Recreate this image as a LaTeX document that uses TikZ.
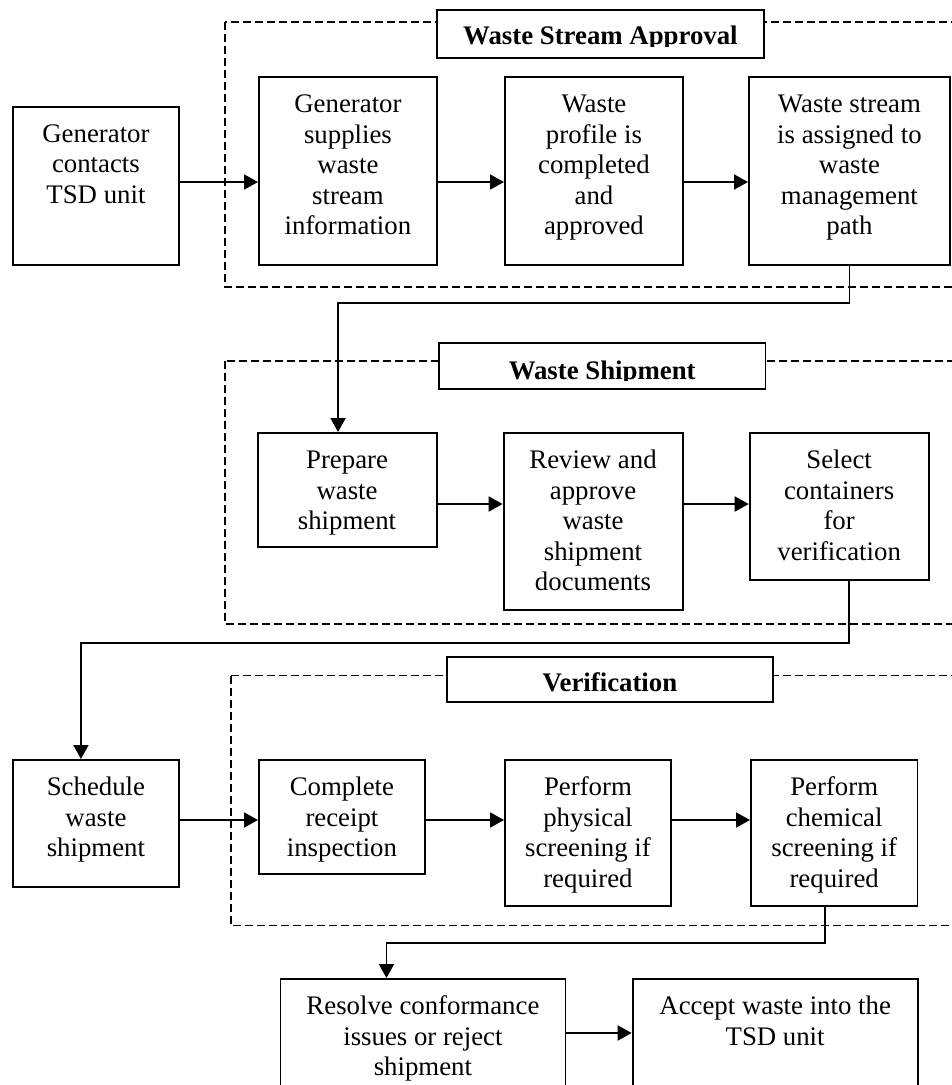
\documentclass[tikz,border=0pt]{standalone}
\usepackage{fontspec}
\setmainfont{Liberation Serif}
\usetikzlibrary{arrows.meta}

\tikzset{
  stepbox/.style={draw, line width=1.9pt, inner sep=0pt, anchor=north west},
  steptext/.style={inner sep=0pt, anchor=base, font=\fontsize{26.8}{30.6}\selectfont},
  titlebox/.style={draw, line width=1.9pt, inner sep=0pt, anchor=north west, fill=white},
  titletext/.style={inner sep=0pt, anchor=base, font=\fontsize{26.8}{30.6}\selectfont\bfseries},
  group/.style={line width=1.7pt, dash pattern=on 8pt off 4pt},
  flow/.style={line width=1.9pt, -{Triangle[length=14pt,width=15pt]}},
}

% #1 name, #2 x, #3 y (top left), #4 width, #5 height, #6 text
\newcommand\flowstep[6]{%
  \node[stepbox, minimum width=#4pt, minimum height=#5pt] (#1) at (#2,#3) {};
  \path (#1.north) ++(0,36.4) node[steptext] (#1-text) {\parbox[t]{#4pt}{\centering #6}};
}

% #1 name, #2 x, #3 y, #4 width, #5 height, #6 baseline, #7 clip bottom, #8 text
\newcommand\grouptitle[8]{%
  \node[titlebox, minimum width=#4pt, minimum height=#5pt] (#1) at (#2,#3) {};
  \begin{scope}
    \clip (#2,#3) rectangle ++(#4,#7-#3);
    \path (#1.north |- 0,#6) node[titletext] (#1-text) {#8};
  \end{scope}
}

\begin{document}
\begin{tikzpicture}[x=1pt,y=-1pt]
\useasboundingbox (0,0) rectangle (952,1085);
\clip (0,0) rectangle (952,1085);

% dashed group frames
\draw[group] (225,22) rectangle (975,287);
\draw[group] (225,361) rectangle (975,624);
\draw[group] (231,675.5) rectangle (975,925.5);

% group titles
\grouptitle{t1}{436}{9}{327}{48}{44}{46.7}{Waste Stream Approval}
\grouptitle{t2}{438}{342}{326.5}{46}{379}{380.5}{Waste Shipment}
\grouptitle{t3}{446}{656}{326}{45}{691}{701}{Verification}

% waste stream approval
\flowstep{gen}{11.7}{105.7}{166.6}{158.3}{Generator\\contacts\\TSD unit}
\flowstep{sup}{258}{76}{178}{188}{Generator\\supplies\\waste\\stream\\information}
\flowstep{prof}{504}{76}{178}{188}{Waste\\profile is\\completed\\and\\approved}
\flowstep{sass}{748}{76}{201}{188}{Waste stream\\is assigned to\\waste\\management\\path}

% waste shipment
\flowstep{prep}{256.6}{432}{179}{114}{Prepare\\waste\\shipment}
\flowstep{rev}{502.6}{432}{179}{177}{Review and\\approve\\waste\\shipment\\documents}
\flowstep{sel}{748.7}{432}{179}{147}{Select\\containers\\for\\verification}

% verification
\flowstep{sched}{12}{759}{166}{127}{Schedule\\waste\\shipment}
\flowstep{comp}{258}{759}{166}{114}{Complete\\receipt\\inspection}
\flowstep{phys}{504}{759}{166}{146}{Perform\\physical\\screening if\\required}
\flowstep{chem}{750}{759}{166.5}{146}{Perform\\chemical\\screening if\\required}

% outcome
\flowstep{res}{279.5}{978}{285}{140}{Resolve conformance\\issues or reject\\shipment}
\flowstep{acc}{631.7}{978}{285}{140}{Accept waste into the\\TSD unit}

% connectors
\coordinate (r1) at (0,182);
\coordinate (r2) at (0,504);
\coordinate (r3) at (0,820);
\coordinate (r4) at (0,1033);

\draw[flow] (gen.east |- r1) -- (sup.west |- r1);
\draw[flow] (sup.east |- r1) -- (prof.west |- r1);
\draw[flow] (prof.east |- r1) -- (sass.west |- r1);
\draw[flow] (sass.south) -- ++(0,37) -| ([xshift=-9pt]prep.north);

\draw[flow] (prep.east |- r2) -- (rev.west |- r2);
\draw[flow] (rev.east |- r2) -- (sel.west |- r2);
\draw[flow] ([xshift=10pt]sel.south) -- ++(0,62) -| ([xshift=-15pt]sched.north);

\draw[flow] (sched.east |- r3) -- (comp.west |- r3);
\draw[flow] (comp.east |- r3) -- (phys.west |- r3);
\draw[flow] (phys.east |- r3) -- (chem.west |- r3);
\draw[flow] ([xshift=-9.5pt]chem.south) -- ++(0,36) -| ([xshift=-36.5pt]res.north);

\draw[flow] (res.east |- r4) -- (acc.west |- r4);
\end{tikzpicture}
\end{document}
